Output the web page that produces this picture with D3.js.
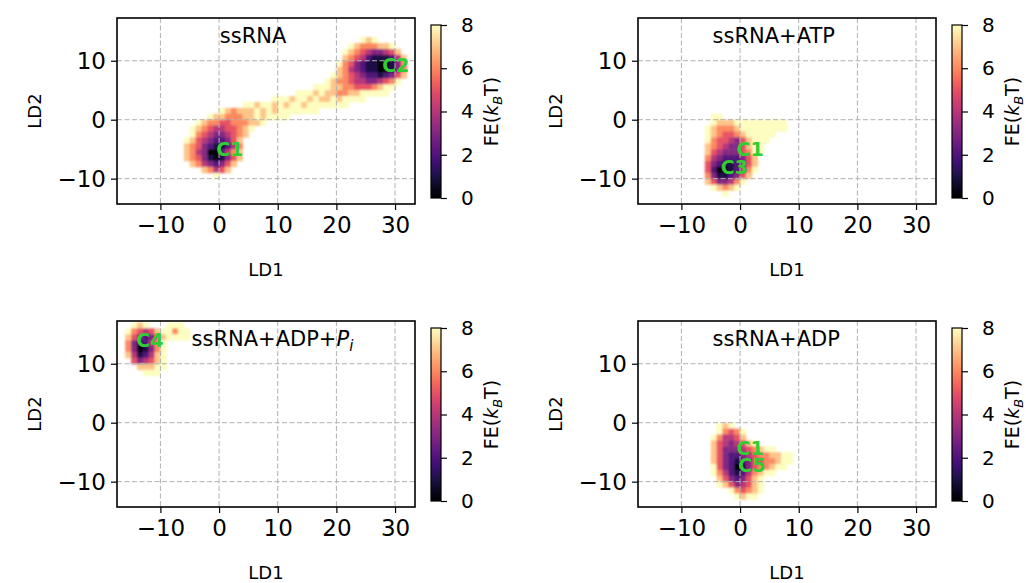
<!DOCTYPE html>
<html>
<head>
<meta charset="utf-8">
<script src="https://cdn.jsdelivr.net/npm/d3@7"></script>
<style>
  body { margin: 0; background: #fff; }
  text { font-family: "DejaVu Sans", sans-serif; }
</style>
</head>
<body>
<svg id="fig" width="1026" height="583"></svg>
<script>
// ---- data ----
// each row: [LD2 bin (lower edge), first LD1 bin (left edge), FE per 1x1 bin in kBT, "." = empty]
const ssRNA = [
  [13, 24, "878"],
  [12, 22, "87666778"],
  [11, 21, "8765433457"],
  [10, 21, "76542111247"],
  [9, 20, "865321100136"],
  [8, 20, "764321100136"],
  [7, 19, "8765432212357"],
  [6, 18, "8766544334568"],
  [5, 16, "88877665556788"],
  [4, 13, "8887877667788888"],
  [3, 9, "8887887877878888"],
  [2, 4, "887887878878888888"],
  [1, 0, "87677787878888888"],
  [0, -2, "87766677878888"],
  [-1, -4, "876655666778"],
  [-2, -5, "87654455678"],
  [-3, -5, "8654334567"],
  [-4, -6, "8754322357"],
  [-5, -6, "7653211246"],
  [-6, -6, "7643002467"],
  [-7, -6, "7653101357"],
  [-8, -5, "76432357"],
  [-9, -3, "76457"],
  [-10, -1, "8"]
];
const ssRNA_ATP = [
  [0, -5, "88"],
  [-1, -5, "8777888888888"],
  [-2, -6, "87666788888888"],
  [-3, -6, "876556788888"],
  [-4, -6, "86554357888"],
  [-5, -6, "7654335788"],
  [-6, -6, "7543335688"],
  [-7, -6, "643222357"],
  [-8, -6, "532112357"],
  [-9, -6, "520012468"],
  [-10, -6, "63112357"],
  [-11, -6, "7533468"],
  [-12, -5, "87678"],
  [-13, -3, "8"]
];
const ssRNA_ADP_Pi = [
  [16, -15, "878"],
  [16, -9, "888"],
  [15, -16, "86545788688"],
  [14, -16, "75323578888"],
  [13, -16, "6312468"],
  [12, -16, "6301368"],
  [11, -16, "7412478"],
  [10, -15, "534578"],
  [9, -14, "77788"],
  [8, -13, "888"]
];
const ssRNA_ADP = [
  [-1, -4, "878"],
  [-2, -4, "86568"],
  [-3, -5, "864457"],
  [-4, -5, "75434578"],
  [-5, -5, "75333456788"],
  [-6, -5, "75322345667788"],
  [-7, -5, "75321235566788"],
  [-8, -5, "8532013566788"],
  [-9, -5, "86421246788"],
  [-10, -4, "75323578"],
  [-11, -4, "87534578"],
  [-12, -2, "865678"],
  [-13, -1, "8788"]
];

const ld1Ticks = [-10, 0, 10, 20, 30];
const ld2Ticks = [-10, 0, 10];
const feTicks = [0, 2, 4, 6, 8];
const ld1Domain = [-17.4, 33.4];
const ld2Domain = [-14.3, 17.25];
const feDomain = [0, 8];

const panelTitles = [
  [{t: "ssRNA"}],
  [{t: "ssRNA+ATP"}],
  [{t: "ssRNA+ADP+"}, {t: "P", it: true}, {t: "i", it: true, sub: true}],
  [{t: "ssRNA+ADP"}]
];
const feGrids = [ssRNA, ssRNA_ATP, ssRNA_ADP_Pi, ssRNA_ADP];
// basin labels: [name, LD1, LD2]
const basinLabels = [
  [["C1", -0.5, -6.1], ["C2", 27.8, 8.1]],
  [["C1", -0.6, -6.1], ["C3", -3.3, -9.2]],
  [["C4", -14.1, 12.9]],
  [["C1", -0.6, -5.5], ["C5", -0.3, -8.3]]
];

// ---- layout ----
const panelW = 298, panelH = 186;
const layout = [
  {left: 117, top: 18, titleX: 0.345},
  {left: 638, top: 18, titleX: 0.25},
  {left: 117, top: 321, titleX: 0.25},
  {left: 638, top: 321, titleX: 0.25}
];

const fig = d3.select("#fig");
const color = d3.scaleSequential(d3.interpolateMagma).domain(feDomain);

const defs = fig.append("defs");
// shared colorbar gradient
const grad = defs.append("linearGradient")
  .attr("id", "magmaGrad")
  .attr("x1", 0).attr("y1", 1).attr("x2", 0).attr("y2", 0);
d3.range(0, 1.0001, 0.05).forEach(t => {
  grad.append("stop").attr("offset", t).attr("stop-color", d3.interpolateMagma(t));
});
// soften the 1-unit bins a little
defs.append("filter").attr("id", "soften")
  .attr("x", "-10%").attr("y", "-10%").attr("width", "120%").attr("height", "120%")
  .append("feGaussianBlur").attr("stdDeviation", 1.3);

function styleAxis(ax, size) {
  ax.attr("font-family", "DejaVu Sans, sans-serif").attr("font-size", size);
  ax.select(".domain").remove();
  ax.selectAll(".tick line").attr("stroke", "#000").attr("stroke-width", 1.2);
  ax.selectAll(".tick text").attr("fill", "#000");
}

function drawPanel(i) {
  const L = layout[i];
  const g = fig.append("g").attr("transform", "translate(" + L.left + "," + L.top + ")");

  const x = d3.scaleLinear().domain(ld1Domain).range([0, panelW]);
  const y = d3.scaleLinear().domain(ld2Domain).range([panelH, 0]);

  g.append("clipPath").attr("id", "clip" + i)
    .append("rect").attr("width", panelW).attr("height", panelH);

  // FE cells
  const cells = [];
  feGrids[i].forEach(function(row) {
    const yy = row[0], x0 = row[1], s = row[2];
    for (let k = 0; k < s.length; k++) {
      if (s[k] === ".") continue;
      cells.push({x: x0 + k, y: yy, fe: +s[k]});
    }
  });
  g.append("g").attr("clip-path", "url(#clip" + i + ")")
    .append("g").attr("filter", "url(#soften)")
    .selectAll("rect").data(cells).join("rect")
    .attr("x", d => x(d.x))
    .attr("y", d => y(d.y + 1))
    .attr("width", d => x(d.x + 1) - x(d.x) + 0.4)
    .attr("height", d => y(d.y) - y(d.y + 1) + 0.4)
    .attr("fill", d => color(d.fe));

  // grid (drawn over the landscape)
  const grid = g.append("g").attr("stroke", "#b0b0b0").attr("stroke-width", 1)
    .attr("stroke-dasharray", "5,2.5");
  ld1Ticks.forEach(function(t) {
    grid.append("line").attr("x1", x(t)).attr("x2", x(t)).attr("y1", 0).attr("y2", panelH);
  });
  ld2Ticks.forEach(function(t) {
    grid.append("line").attr("y1", y(t)).attr("y2", y(t)).attr("x1", 0).attr("x2", panelW);
  });

  // basin labels
  basinLabels[i].forEach(function(b) {
    g.append("text").attr("x", x(b[1])).attr("y", y(b[2]))
      .attr("font-size", 19).attr("font-weight", "bold").attr("fill", "#32cd32")
      .text(b[0]);
  });

  // title inside the axes
  const title = g.append("text").attr("x", L.titleX * panelW).attr("y", 25)
    .attr("font-size", 21).attr("fill", "#000");
  panelTitles[i].forEach(function(p) {
    const ts = title.append("tspan").text(p.t);
    if (p.it) ts.attr("font-style", "italic");
    if (p.sub) ts.attr("font-size", 15).attr("dy", 5);
  });

  // frame
  g.append("rect").attr("width", panelW).attr("height", panelH)
    .attr("fill", "none").attr("stroke", "#000").attr("stroke-width", 1.6);

  // axes
  const xAx = g.append("g").attr("transform", "translate(0," + panelH + ")")
    .call(d3.axisBottom(x).tickValues(ld1Ticks).tickSize(6).tickPadding(7));
  styleAxis(xAx, 23);
  const yAx = g.append("g")
    .call(d3.axisLeft(y).tickValues(ld2Ticks).tickSize(6).tickPadding(5));
  styleAxis(yAx, 23);

  g.append("text").attr("x", panelW / 2).attr("y", panelH + 72)
    .attr("text-anchor", "middle").attr("font-size", 18).text("LD1");
  g.append("text")
    .attr("transform", "translate(-76," + (panelH / 2) + ") rotate(-90)")
    .attr("text-anchor", "middle").attr("font-size", 18).text("LD2");

  // colorbar
  const cbW = 10, cbH = 173;
  const cb = g.append("g").attr("transform", "translate(" + (panelW + 16) + ",7)");
  const cbScale = d3.scaleLinear().domain(feDomain).range([cbH, 0]);
  cb.append("rect").attr("width", cbW).attr("height", cbH).attr("fill", "url(#magmaGrad)");
  cb.append("rect").attr("width", cbW).attr("height", cbH)
    .attr("fill", "none").attr("stroke", "#000").attr("stroke-width", 1.2);
  const cbAx = cb.append("g").attr("transform", "translate(" + cbW + ",0)")
    .call(d3.axisRight(cbScale).tickValues(feTicks).tickSize(6).tickPadding(14));
  styleAxis(cbAx, 20);

  const cbLab = cb.append("text")
    .attr("transform", "translate(67," + (cbH / 2) + ") rotate(-90)")
    .attr("text-anchor", "middle").attr("font-size", 19);
  cbLab.append("tspan").text("FE(");
  cbLab.append("tspan").attr("font-style", "italic").text("k");
  cbLab.append("tspan").attr("font-style", "italic").attr("font-size", 13).attr("dy", 4).text("B");
  cbLab.append("tspan").attr("dy", -4).text("T)");
}

for (let i = 0; i < 4; i++) drawPanel(i);
</script>
</body>
</html>
